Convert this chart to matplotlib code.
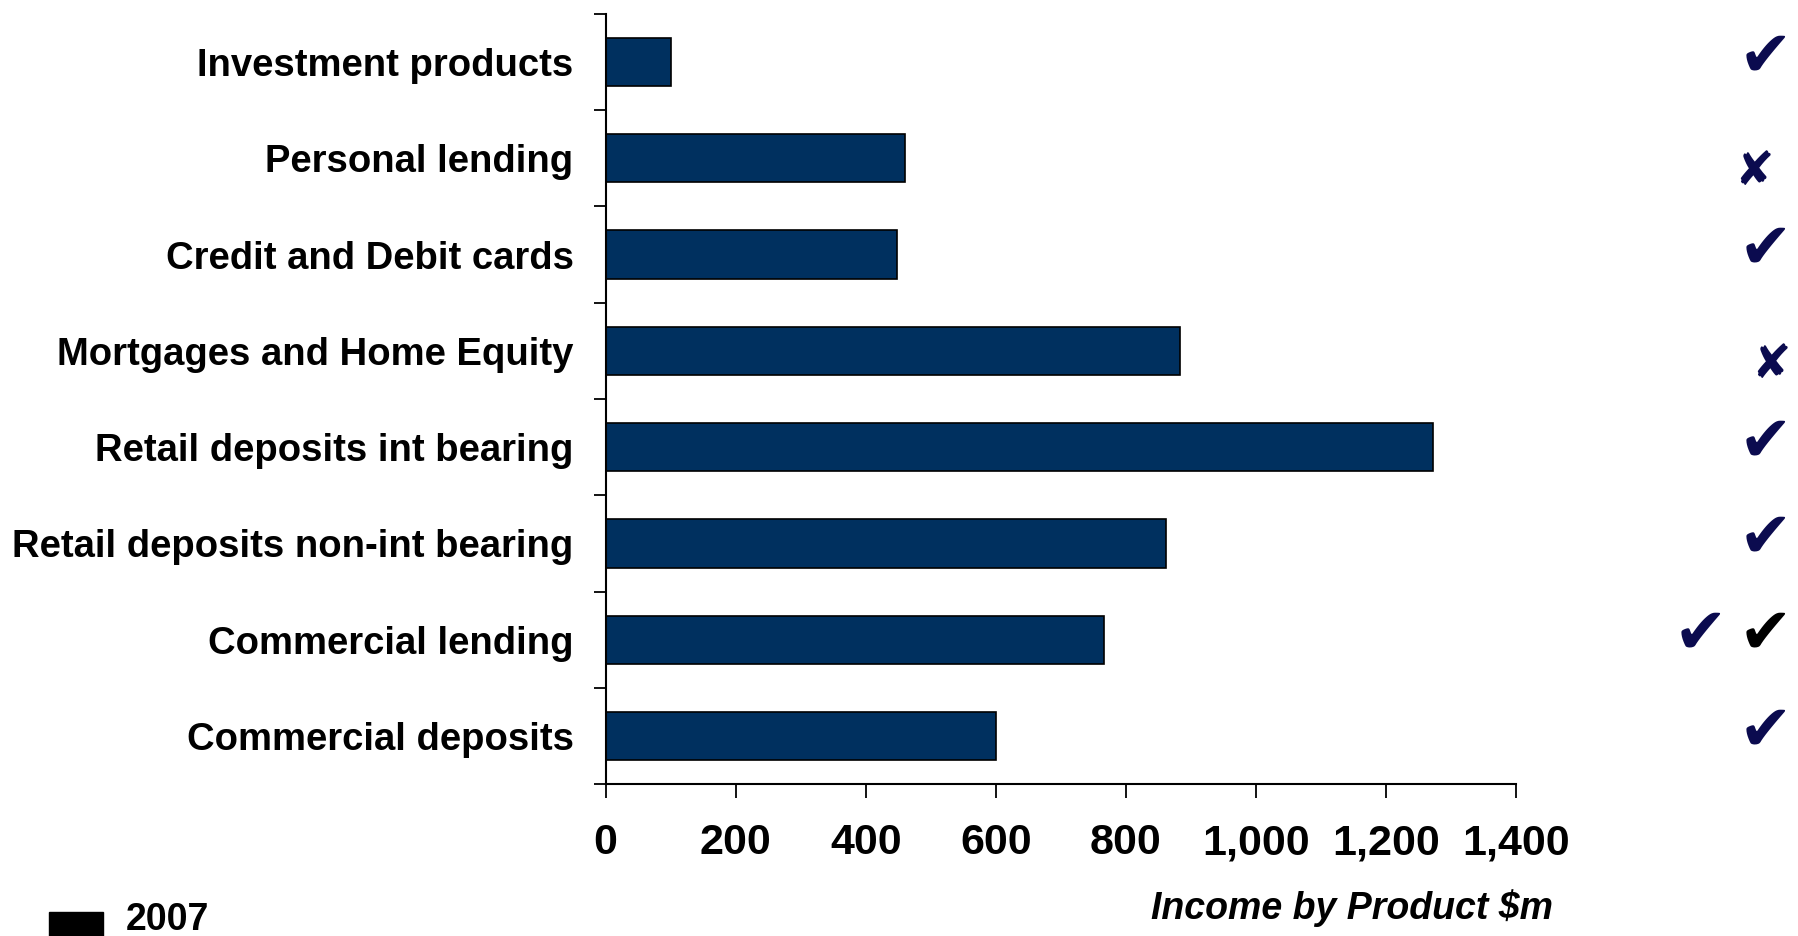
import matplotlib.pyplot as plt
from matplotlib.transforms import blended_transform_factory
from matplotlib.patches import Rectangle
import numpy as np

plt.rcParams['font.family'] = ['Liberation Sans', 'DejaVu Sans']

# Income by product, 2007 ($m)
products = ['Investment products', 'Personal lending', 'Credit and Debit cards',
            'Mortgages and Home Equity', 'Retail deposits int bearing',
            'Retail deposits non-int bearing', 'Commercial lending', 'Commercial deposits']
income = [100, 460, 448, 884, 1273, 862, 767, 600]
# marks drawn at the right of each row
marks = ['\u2714', '\u2718', '\u2714', '\u2718', '\u2714', '\u2714', '\u2714', '\u2714']
xticks = [0, 200, 400, 600, 800, 1000, 1200, 1400]
bar_color = '#00305f'
mark_color = '#0b0b4f'

fig = plt.figure(figsize=(17.98, 9.36), dpi=100)
ax = fig.add_axes([0.3368, 0.1621, 0.5064, 0.8232])

y = np.arange(len(products))
ax.barh(y, income, height=0.5, color=bar_color, edgecolor='black', linewidth=1.2)
ax.set_ylim(len(products) - 0.5, -0.5)
ax.set_xlim(0, 1400)

ax.spines['top'].set_visible(False)
ax.spines['right'].set_visible(False)
ax.spines['left'].set_linewidth(1.5)
ax.spines['bottom'].set_linewidth(1.5)

ax.set_yticks(y)
ax.set_yticklabels(products, fontsize=27.5, fontweight='bold')
ax.tick_params(axis='y', which='major', length=0, pad=23)
ax.set_yticks(np.arange(len(products) + 1) - 0.5, minor=True)
ax.tick_params(axis='y', which='minor', length=9, width=1.3, direction='out')

ax.set_xticks(xticks)
ax.set_xticklabels([f'{v:,}' for v in xticks], fontsize=31, fontweight='bold')
ax.tick_params(axis='x', length=10, width=1.3, pad=18)

fig.text(0.864, 0.030, 'Income by Product $m', fontsize=27, fontweight='bold',
         style='italic', ha='right', va='center')

# legend
fig.patches.append(Rectangle((49 / 1798, 0.0), 54 / 1798, 24 / 936,
                             transform=fig.transFigure, color='black'))
fig.text(126 / 1798, 0.017, '2007', fontsize=27, fontweight='bold', va='center')

# ticks and crosses on the right
tr = blended_transform_factory(fig.transFigure, ax.transData)
for i, m in enumerate(marks):
    if m == '\u2718':
        xpos = 0.9755 if i == 1 else 0.985
        ax.text(xpos, i + 0.15, m, transform=tr, fontsize=34, color=mark_color,
                ha='center', va='center', family='DejaVu Sans', clip_on=False)
    else:
        col = 'black' if products[i] == 'Commercial lending' else mark_color
        ax.text(0.982, i - 0.05, m, transform=tr, fontsize=46, color=col,
                ha='center', va='center', family='DejaVu Sans', clip_on=False)
        if products[i] == 'Commercial lending':
            ax.text(0.9455, i - 0.05, m, transform=tr, fontsize=46, color=mark_color,
                    ha='center', va='center', family='DejaVu Sans', clip_on=False)

fig.savefig('out.png', dpi=100)
